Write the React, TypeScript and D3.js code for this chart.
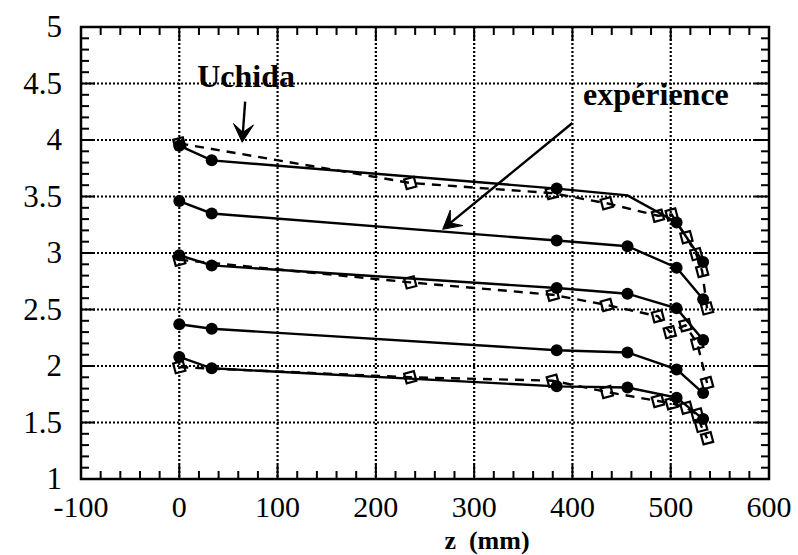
import React from "react";
import * as d3 from "d3";

// ---- Data ----
const zExp = [0, 33, 384, 456, 506, 533];
const exp1 = [3.95, 3.82, 3.57, 3.51, 3.27, 2.92];
const exp1Marker = [true, true, true, false, true, true];
const exp2 = [3.46, 3.35, 3.11, 3.06, 2.87, 2.59];
const exp3 = [2.98, 2.89, 2.69, 2.64, 2.51, 2.23];
const exp4 = [2.37, 2.33, 2.14, 2.12, 1.97, 1.76];
const exp5 = [2.08, 1.98, 1.82, 1.81, 1.72, 1.53];

const zUch1 = [0, 235, 379, 435, 487, 501, 516, 526, 532, 537];
const uch1 = [3.97, 3.62, 3.53, 3.44, 3.33, 3.34, 3.14, 2.99, 2.84, 2.51];
const zUch2 = [0, 235, 380, 435, 487, 499, 515, 527, 537];
const uch2 = [2.94, 2.74, 2.63, 2.54, 2.44, 2.30, 2.36, 2.20, 1.85];
const zUch3 = [0, 235, 380, 435, 487, 501, 516, 527, 531, 537];
const uch3 = [1.99, 1.90, 1.87, 1.77, 1.69, 1.67, 1.63, 1.57, 1.47, 1.36];

const xTicks = [-100, 0, 100, 200, 300, 400, 500, 600];
const yTicks = [1, 1.5, 2, 2.5, 3, 3.5, 4, 4.5, 5];
const yTickLabels = ["1", "1.5", "2", "2.5", "3", "3.5", "4", "4.5", "5"];

const xLabel = "z  (mm)";
const uchidaLabel = "Uchida";
const expLabel = "expérience";

// annotation anchors in data units
const uchidaText = { z: 68, v: 4.47 };
const uchidaArrow = { z0: 67, v0: 4.34, z1: 64, v1: 3.98 };
const expText = { z: 485, v: 4.31 };
const expArrow = { z0: 400, v0: 4.15, z1: 268, v1: 3.21 };

const W = 798;
const H = 555;
const left = 81, right = 769, top = 27, bottom = 479;
const FONT = "'Liberation Serif', 'DejaVu Serif', 'Times New Roman', serif";

export default function App() {
  const x = d3.scaleLinear().domain([-100, 600]).range([left, right]);
  const y = d3.scaleLinear().domain([1, 5]).range([bottom, top]);

  const expSeries = [exp1, exp2, exp3, exp4, exp5];
  const uchSeries = [
    { z: zUch1, v: uch1 },
    { z: zUch2, v: uch2 },
    { z: zUch3, v: uch3 },
  ];
  const line = d3
    .line<[number, number]>()
    .x((d) => x(d[0]))
    .y((d) => y(d[1]));

  const xMinor = d3.range(-100, 601, 20);
  const yMinor = d3.range(1, 5.001, 0.1);
  const xGrid = xTicks.slice(1, -1);
  const yGrid = yTicks.slice(1, -1);

  const arrow = (a: { z0: number; v0: number; z1: number; v1: number }) => {
    const x0 = x(a.z0), y0 = y(a.v0), x1 = x(a.z1), y1 = y(a.v1);
    const dx = x1 - x0, dy = y1 - y0;
    const len = Math.hypot(dx, dy);
    const ux = dx / len, uy = dy / len;
    const px = -uy, py = ux;
    const L = 18, Wd = 10, notch = 10;
    const bx = x1 - ux * L, by = y1 - uy * L;
    const nx = x1 - ux * notch, ny = y1 - uy * notch;
    const head = `M${x1},${y1} L${bx + px * Wd},${by + py * Wd} L${nx},${ny} L${bx - px * Wd},${by - py * Wd} Z`;
    return (
      <g>
        <line x1={x0} y1={y0} x2={nx} y2={ny} stroke="#000" strokeWidth={2.4} />
        <path d={head} fill="#000" stroke="#000" strokeWidth={1} strokeLinejoin="miter" />
      </g>
    );
  };

  const txt = { fontFamily: FONT } as React.CSSProperties;

  return (
    <svg width={W} height={H} style={{ position: "absolute", left: 0, top: 0, background: "#fff" }}>
      <rect x={0} y={0} width={W} height={H} fill="#fff" />
      {/* grid */}
      {xGrid.map((t) => (
        <line key={"gx" + t} x1={x(t)} x2={x(t)} y1={top} y2={bottom} stroke="#000" strokeWidth={2.2} strokeDasharray="2,2" />
      ))}
      {yGrid.map((t) => (
        <line key={"gy" + t} x1={left} x2={right} y1={y(t)} y2={y(t)} stroke="#000" strokeWidth={2.2} strokeDasharray="2,2" />
      ))}
      {/* ticks */}
      {xMinor.map((t) => {
        const major = Math.abs(t % 100) < 1e-6;
        const l = major ? 14 : 8;
        return (
          <g key={"xt" + t}>
            <line x1={x(t)} x2={x(t)} y1={bottom} y2={bottom - l} stroke="#000" strokeWidth={2} />
            <line x1={x(t)} x2={x(t)} y1={top} y2={top + l} stroke="#000" strokeWidth={2} />
          </g>
        );
      })}
      {yMinor.map((t, i) => {
        const major = i % 5 === 0;
        const l = major ? 14 : 8;
        return (
          <g key={"yt" + i}>
            <line x1={left} x2={left + l} y1={y(t)} y2={y(t)} stroke="#000" strokeWidth={2} />
            <line x1={right} x2={right - l} y1={y(t)} y2={y(t)} stroke="#000" strokeWidth={2} />
          </g>
        );
      })}
      {/* frame */}
      <rect x={left} y={top} width={right - left} height={bottom - top} fill="none" stroke="#000" strokeWidth={2.5} />

      {/* Uchida dashed series */}
      {uchSeries.map((s, si) => {
        const pts = s.z.map((z, i) => [z, s.v[i]] as [number, number]);
        return (
          <g key={"u" + si}>
            <path d={line(pts) || ""} fill="none" stroke="#000" strokeWidth={2.4} strokeDasharray="9,7" />
            {pts.map((p, i) => (
              <rect
                key={i}
                x={x(p[0]) - 5}
                y={y(p[1]) - 5}
                width={10}
                height={10}
                fill="none"
                stroke="#000"
                strokeWidth={2.2}
                transform={`rotate(-15 ${x(p[0])} ${y(p[1])})`}
              />
            ))}
          </g>
        );
      })}

      {/* experience solid series */}
      {expSeries.map((s, si) => {
        const pts = zExp.map((z, i) => [z, s[i]] as [number, number]);
        return (
          <g key={"e" + si}>
            <path d={line(pts) || ""} fill="none" stroke="#000" strokeWidth={2.4} />
            {pts.map((p, i) =>
              si === 0 && !exp1Marker[i] ? null : (
                <circle key={i} cx={x(p[0])} cy={y(p[1])} r={6} fill="#000" />
              )
            )}
          </g>
        );
      })}

      {/* tick labels */}
      {xTicks.map((t) => (
        <text key={"xl" + t} x={x(t)} y={517} textAnchor="middle" fontSize={30} fill="#000" style={txt}>
          {String(t)}
        </text>
      ))}
      {yTicks.map((t, i) => (
        <text key={"yl" + t} x={62} y={y(t) + 10} textAnchor="end" fontSize={31} fill="#000" style={txt}>
          {yTickLabels[i]}
        </text>
      ))}
      <text x={487} y={549} textAnchor="middle" fontSize={26} fontWeight="bold" fill="#000" style={{ ...txt, whiteSpace: "pre" }}>
        {xLabel}
      </text>

      {/* annotations */}
      <text x={x(uchidaText.z)} y={y(uchidaText.v)} textAnchor="middle" fontSize={32} fontWeight="bold" fill="#000" style={txt}>
        {uchidaLabel}
      </text>
      {arrow(uchidaArrow)}
      <text x={x(expText.z)} y={y(expText.v)} textAnchor="middle" fontSize={32} fontWeight="bold" fill="#000" style={txt}>
        {expLabel}
      </text>
      {arrow(expArrow)}
    </svg>
  );
}
